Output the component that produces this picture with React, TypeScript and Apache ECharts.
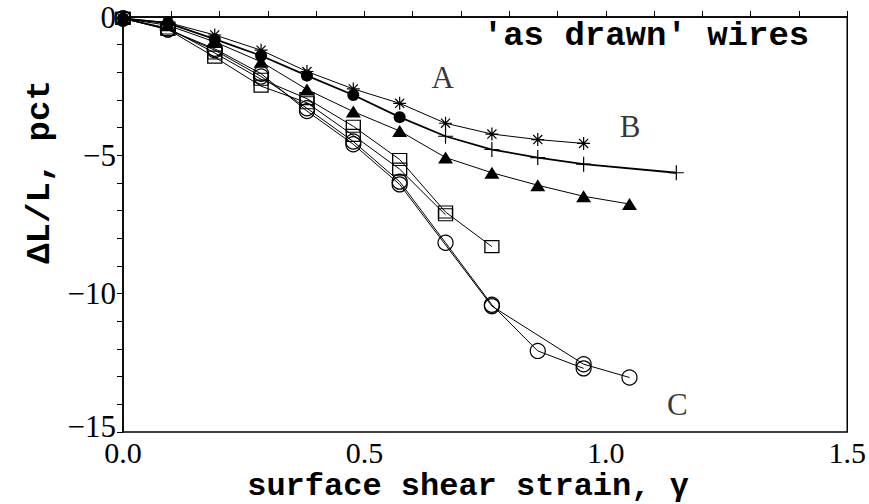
import React, { useEffect, useRef } from "react";
import * as echarts from "echarts";

// Shear strain (x) and length change ΔL/L in percent (y) for each wire test.
const strainStar = [0, 0.093, 0.19, 0.286, 0.381, 0.477, 0.573, 0.668, 0.764, 0.859, 0.954];
const dlStar = [-0.05, -0.2, -0.65, -1.2, -1.97, -2.6, -3.12, -3.84, -4.23, -4.43, -4.57];

const strainB = [0, 0.093, 0.19, 0.286, 0.381, 0.477, 0.573, 0.668, 0.764, 0.859, 0.954, 1.146];
const dlB = [-0.05, -0.22, -0.8, -1.4, -2.12, -2.82, -3.62, -4.31, -4.79, -5.08, -5.32, -5.63];
const bFilledCount = 7;

const strainTri = [0, 0.093, 0.19, 0.286, 0.381, 0.477, 0.573, 0.668, 0.764, 0.859, 0.954, 1.049];
const dlTri = [-0.05, -0.3, -0.9, -1.62, -2.62, -3.42, -4.12, -5.08, -5.63, -6.08, -6.48, -6.76];

const strainSq1 = [0, 0.093, 0.19, 0.286, 0.381, 0.477, 0.573, 0.668, 0.764];
const dlSq1 = [-0.05, -0.4, -1.3, -2.25, -2.95, -3.95, -5.15, -7.05, -8.3];

const strainSq2 = [0, 0.093, 0.19, 0.286, 0.381, 0.477, 0.573, 0.668];
const dlSq2 = [-0.05, -0.45, -1.45, -2.5, -3.1, -4.28, -5.5, -7.15];

const strainCirc1 = [0, 0.093, 0.19, 0.286, 0.381, 0.477, 0.573, 0.668, 0.764, 0.859, 0.954];
const dlCirc1 = [-0.05, -0.45, -1.2, -2.15, -3.3, -4.5, -5.95, -8.16, -10.4, -12.07, -12.7];

const strainCirc2 = [0, 0.093, 0.19, 0.286, 0.381, 0.477, 0.573, 0.764, 0.954, 1.049];
const dlCirc2 = [-0.05, -0.45, -1.15, -2.05, -3.4, -4.6, -6.05, -10.45, -12.55, -13.03];

const curveLabels = ["A", "B", "C"];
const labelStrain = [0.662, 1.05, 1.148];
const labelDl = [-2.2, -3.95, -14.0];

const titleText = "'as drawn' wires";
const xTitle = "surface shear strain, \u03b3";
const yTitle = "\u0394L/L, pct";

const ASTERISK = "path://M0,-10L0,10M-10,0L10,0M-7,-7L7,7M-7,7L7,-7";
const PLUS = "path://M0,-10L0,10M-10,0L10,0";

const pairs = (xs: number[], ys: number[]) => xs.map((x, i) => [x, ys[i]]);

const hollow = { color: "rgba(255,255,255,0)", borderColor: "#000", borderWidth: 1.2 };
const solid = { color: "#000", borderColor: "#000", borderWidth: 0 };
const line = { color: "#000", width: 1 };

export default function App() {
  const ref = useRef<HTMLDivElement>(null);

  useEffect(() => {
    if (!ref.current) return;
    const chart = echarts.init(ref.current, null, { renderer: "svg" });

    const bData = strainB.map((x, i) =>
      i < bFilledCount
        ? { value: [x, dlB[i]], symbol: "circle", symbolSize: 12, itemStyle: solid }
        : { value: [x, dlB[i]], symbol: PLUS, symbolSize: 15, itemStyle: hollow }
    );

    const series: any[] = [
      {
        type: "line",
        data: pairs(strainCirc2, dlCirc2),
        symbol: "circle",
        symbolSize: 15,
        itemStyle: hollow,
        lineStyle: line,
      },
      {
        type: "line",
        data: pairs(strainCirc1, dlCirc1),
        symbol: "circle",
        symbolSize: 15,
        itemStyle: hollow,
        lineStyle: line,
      },
      {
        type: "line",
        data: pairs(strainSq2, dlSq2),
        symbol: "rect",
        symbolSize: [14, 12],
        itemStyle: hollow,
        lineStyle: line,
      },
      {
        type: "line",
        data: pairs(strainSq1, dlSq1),
        symbol: "rect",
        symbolSize: [14, 12],
        itemStyle: hollow,
        lineStyle: line,
      },
      {
        type: "line",
        data: pairs(strainTri, dlTri),
        symbol: "triangle",
        symbolSize: [15, 12],
        itemStyle: solid,
        lineStyle: line,
      },
      {
        type: "line",
        data: bData,
        lineStyle: { color: "#000", width: 1.8 },
      },
      {
        type: "line",
        data: pairs(strainStar, dlStar),
        symbol: ASTERISK,
        symbolSize: 13,
        itemStyle: hollow,
        lineStyle: line,
      },
      {
        type: "scatter",
        data: pairs(labelStrain, labelDl),
        symbolSize: 0,
        silent: true,
        label: {
          show: true,
          position: "inside",
          formatter: (p: any) => curveLabels[p.dataIndex],
          fontFamily: "Liberation Serif",
          fontSize: 31,
          color: "#000",
        },
      },
    ];

    chart.setOption({
      animation: false,
      backgroundColor: "#fff",
      grid: {
        left: 123,
        right: 20,
        top: 17,
        bottom: 72,
        show: true,
        borderColor: "#000",
        borderWidth: 1.5,
      },
      xAxis: {
        type: "value",
        min: 0,
        max: 1.5,
        interval: 0.1,
        axisLine: { show: true, lineStyle: { color: "#000", width: 1.5 } },
        axisTick: { show: true, inside: true, length: 6, lineStyle: { color: "#000" } },
        splitLine: { show: false },
        axisLabel: {
          margin: 6,
          color: "#000",
          fontFamily: "Liberation Serif",
          fontSize: 30,
          lineHeight: 28,
          hideOverlap: false,
          showMinLabel: true,
          showMaxLabel: true,
          formatter: (v: number) => (Math.round(v * 10) % 5 === 0 ? v.toFixed(1) : ""),
        },
      },
      yAxis: {
        type: "value",
        min: -15,
        max: 0,
        interval: 1,
        axisLine: { show: true, lineStyle: { color: "#000", width: 1.5 } },
        axisTick: { show: true, inside: false, length: 6, lineStyle: { color: "#000" } },
        splitLine: { show: false },
        axisLabel: {
          margin: 7,
          color: "#000",
          fontFamily: "Liberation Serif",
          fontSize: 31,
          hideOverlap: false,
          showMinLabel: true,
          showMaxLabel: true,
          formatter: (v: number) => {
            const r = Math.round(v);
            if (r % 5 !== 0) return "";
            const s = r === 0 ? "0" : "\u2212" + Math.abs(r);
            // the lowest label sits just above the corner so it clears "0.0"
            return r === -15 ? "{low|" + s + "}" : s;
          },
          rich: {
            low: {
              fontFamily: "Liberation Serif",
              fontSize: 31,
              lineHeight: 24,
              color: "#000",
              padding: [0, 0, 12, 0],
            },
          },
        },
      },
      graphic: [
        {
          type: "text",
          x: 646,
          y: 36,
          style: {
            text: titleText,
            fontFamily: "Liberation Mono",
            fontWeight: "bold",
            fontSize: 34,
            fill: "#000",
            align: "center",
            verticalAlign: "middle",
          },
        },
        {
          type: "text",
          x: 468,
          y: 486,
          style: {
            text: xTitle,
            fontFamily: "Liberation Mono",
            fontWeight: "bold",
            fontSize: 32,
            fill: "#000",
            align: "center",
            verticalAlign: "middle",
          },
        },
        {
          type: "text",
          x: 40,
          y: 172,
          rotation: Math.PI / 2,
          style: {
            text: yTitle,
            fontFamily: "Liberation Mono",
            fontWeight: "bold",
            fontSize: 34,
            fill: "#000",
            align: "center",
            verticalAlign: "middle",
          },
        },
      ],
      series,
    });

    return () => chart.dispose();
  }, []);

  return <div ref={ref} style={{ width: 869, height: 504, position: "absolute", left: 0, top: 0 }} />;
}
